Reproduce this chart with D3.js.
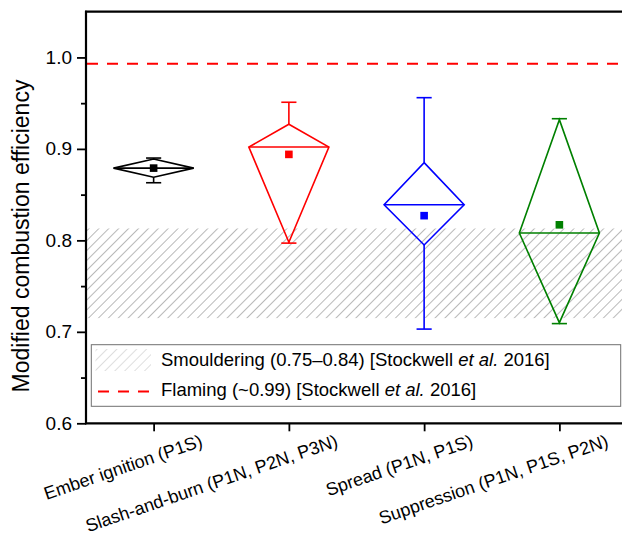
<!DOCTYPE html>
<html>
<head>
<meta charset="utf-8">
<script src="https://cdn.jsdelivr.net/npm/d3@7"></script>
<style>
  body { margin: 0; background: #fff; }
  svg { display: block; font-family: "Liberation Sans", Arial, Helvetica, sans-serif; }
</style>
</head>
<body>
<svg id="chart" width="622" height="537"></svg>
<script>
// Fire-stage categories and their modified combustion efficiency summaries
const categories = [
  "Ember ignition (P1S)",
  "Slash-and-burn (P1N, P2N, P3N)",
  "Spread (P1N, P1S)",
  "Suppression (P1N, P1S, P2N)"
];
const colors = ["#000000", "#ff0000", "#0000ff", "#008000"];
const whiskerLow  = [0.863, 0.797, 0.703, 0.709];
const quartile1   = [0.869, 0.798, 0.795, 0.710];
const median      = [0.879, 0.902, 0.839, 0.808];
const quartile3   = [0.889, 0.927, 0.885, 0.932];
const whiskerHigh = [0.890, 0.951, 0.956, 0.933];
const mean        = [0.879, 0.894, 0.827, 0.817];

// Reference ranges from the literature
const smoulderBand = [0.715, 0.813];
const flamingLevel = 0.993;

const yMajorTicks = [0.6, 0.7, 0.8, 0.9, 1.0];
const yMinorTicks = [0.65, 0.75, 0.85, 0.95];

const svg = d3.select("#chart");
const plotLeft = 86, plotRight = 627, plotTop = 11.7, plotBottom = 423.3;

const x = d3.scaleLinear().domain([0.5, categories.length + 0.5]).range([plotLeft, plotRight]);
const y = d3.scaleLinear().domain([0.6, 1.05]).range([plotBottom, plotTop]);

// Hatch pattern for the smouldering band
const defs = svg.append("defs");
function hatch(id, color, width) {
  const p = defs.append("pattern")
    .attr("id", id).attr("patternUnits", "userSpaceOnUse")
    .attr("width", 7).attr("height", 7)
    .attr("patternTransform", "rotate(45)");
  p.append("line").attr("x1", 0).attr("y1", 0).attr("x2", 0).attr("y2", 7)
    .attr("stroke", color).attr("stroke-width", width);
}
hatch("hatchBand", "#7f7f7f", 1.1);
hatch("hatchKey", "#bdbdbd", 1);

svg.append("rect")
  .attr("x", plotLeft + 1).attr("width", 622 - plotLeft)
  .attr("y", y(smoulderBand[1])).attr("height", y(smoulderBand[0]) - y(smoulderBand[1]))
  .attr("fill", "url(#hatchBand)");

// Flaming reference line
svg.append("line")
  .attr("x1", plotLeft + 1).attr("x2", 622)
  .attr("y1", y(flamingLevel)).attr("y2", y(flamingLevel))
  .attr("stroke", "#ff0000").attr("stroke-width", 2)
  .attr("stroke-dasharray", "11,9");

// Diamond box marks
const halfW = 0.296, capHalf = 0.056;
const groups = svg.append("g").selectAll("g")
  .data(categories.map((c, i) => ({ c, i, pos: i + 1 })))
  .join("g")
  .attr("stroke", d => colors[d.i])
  .attr("stroke-width", 1.6)
  .attr("fill", "none");

groups.append("path")
  .attr("d", d => {
    const cx = x(d.pos);
    return `M${cx},${y(quartile3[d.i])}` +
      `L${x(d.pos + halfW)},${y(median[d.i])}` +
      `L${cx},${y(quartile1[d.i])}` +
      `L${x(d.pos - halfW)},${y(median[d.i])}Z`;
  })
  .attr("stroke-linejoin", "miter");

groups.append("line")
  .attr("x1", d => x(d.pos - halfW)).attr("x2", d => x(d.pos + halfW))
  .attr("y1", d => y(median[d.i])).attr("y2", d => y(median[d.i]));

// Whiskers with caps
groups.append("line")
  .attr("x1", d => x(d.pos)).attr("x2", d => x(d.pos))
  .attr("y1", d => y(quartile3[d.i])).attr("y2", d => y(whiskerHigh[d.i]));
groups.append("line")
  .attr("x1", d => x(d.pos)).attr("x2", d => x(d.pos))
  .attr("y1", d => y(quartile1[d.i])).attr("y2", d => y(whiskerLow[d.i]));
groups.append("line")
  .attr("x1", d => x(d.pos - capHalf)).attr("x2", d => x(d.pos + capHalf))
  .attr("y1", d => y(whiskerHigh[d.i])).attr("y2", d => y(whiskerHigh[d.i]));
groups.append("line")
  .attr("x1", d => x(d.pos - capHalf)).attr("x2", d => x(d.pos + capHalf))
  .attr("y1", d => y(whiskerLow[d.i])).attr("y2", d => y(whiskerLow[d.i]));

// Mean markers
groups.append("rect")
  .attr("x", d => x(d.pos) - 3.8).attr("y", d => y(mean[d.i]) - 3.8)
  .attr("width", 7.6).attr("height", 7.6)
  .attr("stroke", "none").attr("fill", d => colors[d.i]);

// Axes
const yAxis = svg.append("g").attr("transform", `translate(${plotLeft},0)`)
  .call(d3.axisLeft(y).tickValues(yMajorTicks).tickFormat(d3.format(".1f"))
    .tickSize(9).tickPadding(5).tickSizeOuter(0));
yAxis.selectAll("text").attr("font-size", 19).attr("fill", "#000");
yAxis.attr("font-family", null);
yAxis.select(".domain").remove();
yAxis.selectAll(".tick line").attr("stroke-width", 1.8);

svg.append("g").attr("transform", `translate(${plotLeft},0)`)
  .call(d3.axisLeft(y).tickValues(yMinorTicks).tickFormat("").tickSize(5).tickSizeOuter(0))
  .call(g => g.select(".domain").remove())
  .selectAll(".tick line").attr("stroke-width", 1.8);

const xAxis = svg.append("g").attr("transform", `translate(0,${plotBottom})`)
  .call(d3.axisBottom(x).tickValues(categories.map((c, i) => i + 1))
    .tickFormat("").tickSize(8).tickSizeOuter(0));
xAxis.select(".domain").remove();
xAxis.selectAll(".tick line").attr("stroke-width", 1.8);

// Frame lines
svg.append("line").attr("x1", plotLeft).attr("x2", plotLeft).attr("y1", plotTop - 1).attr("y2", plotBottom + 1)
  .attr("stroke", "#000").attr("stroke-width", 2.2);
svg.append("line").attr("x1", plotLeft - 1).attr("x2", 622).attr("y1", plotBottom).attr("y2", plotBottom)
  .attr("stroke", "#000").attr("stroke-width", 2.2);
svg.append("line").attr("x1", plotLeft - 1).attr("x2", 622).attr("y1", plotTop).attr("y2", plotTop)
  .attr("stroke", "#000").attr("stroke-width", 2.2);

// Category labels
svg.append("g").selectAll("text")
  .data(categories)
  .join("text")
  .attr("transform", (d, i) => `translate(${x(i + 1) + 50},446) rotate(-19)`)
  .attr("text-anchor", "end")
  .attr("font-size", 18)
  .text(d => d);

// Y axis title
svg.append("text")
  .attr("transform", "translate(28.5,236) rotate(-90)")
  .attr("text-anchor", "middle")
  .attr("font-size", 23)
  .text("Modified combustion efficiency");

// Legend
const legend = svg.append("g");
legend.append("rect")
  .attr("x", 91.3).attr("y", 344.7).attr("width", 529.4).attr("height", 61.6)
  .attr("fill", "#fff").attr("stroke", "#707070").attr("stroke-width", 1);
legend.append("rect")
  .attr("x", 95.5).attr("y", 349).attr("width", 55.5).attr("height", 22)
  .attr("fill", "url(#hatchKey)");
legend.append("line")
  .attr("x1", 98).attr("x2", 150).attr("y1", 391.5).attr("y2", 391.5)
  .attr("stroke", "#ff0000").attr("stroke-width", 2).attr("stroke-dasharray", "11,9");

const legendRows = [
  { pre: "Smouldering (0.75\u20130.84) [Stockwell ", y: 365.5 },
  { pre: "Flaming (~0.99) [Stockwell ", y: 396 }
];
legendRows.forEach(r => {
  const t = legend.append("text").attr("x", 161).attr("y", r.y).attr("font-size", 18.5);
  t.append("tspan").text(r.pre);
  t.append("tspan").attr("font-style", "italic").text("et al.");
  t.append("tspan").text(" 2016]");
});
</script>
</body>
</html>
